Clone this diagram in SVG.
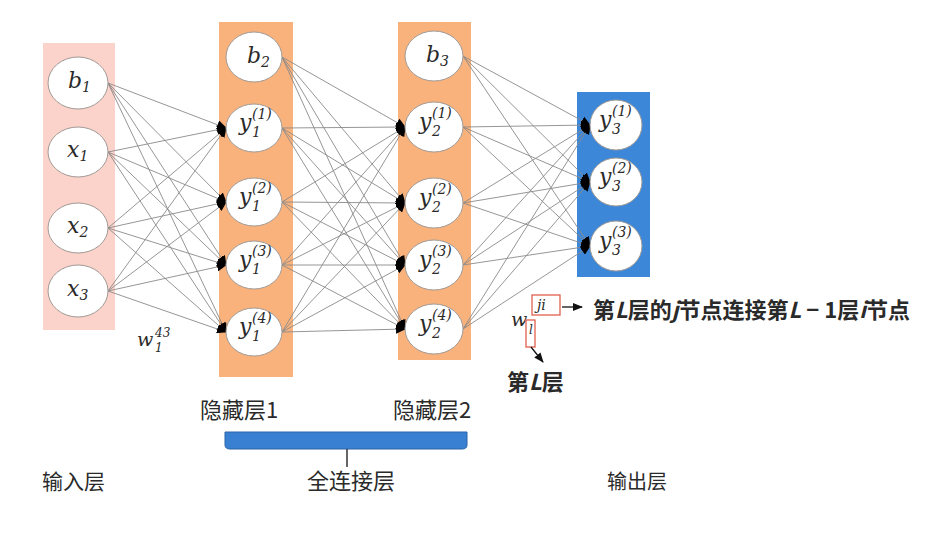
<svg xmlns="http://www.w3.org/2000/svg" width="944" height="544" viewBox="0 0 944 544">
<defs>
<marker id="ah" markerUnits="userSpaceOnUse" markerWidth="10" markerHeight="9" refX="9" refY="4.5" orient="auto">
<path d="M0,0 L10,4.5 L0,9 Z" fill="#000"/>
</marker>
<marker id="ah2" markerUnits="userSpaceOnUse" markerWidth="10" markerHeight="8" refX="9" refY="4" orient="auto">
<path d="M0,0 L10,4 L0,8 Z" fill="#111"/>
</marker>
</defs>
<style>
.n{fill:#fff;stroke:#a09a96;stroke-width:1}
.m{font-family:"DejaVu Serif","Liberation Serif",serif;font-style:italic;font-size:22px;fill:#2a2a2a}
.s{font-size:14px}
.w{font-size:19px}
.e{font-size:12px}
.c line{stroke:#8a8a8a;stroke-width:0.9;marker-end:url(#ah)}
.t{font-family:"Noto Sans CJK SC","Noto Sans",sans-serif;font-size:22px;fill:#2a2a2a}
.rb{fill:none;stroke:#e0604e;stroke-width:1.3}
</style>
<rect width="944" height="544" fill="#fff"/>
<g id="layers">
<rect x="43" y="43" width="72" height="287" fill="#fcd3cb"/>
<rect x="219" y="22" width="74" height="355" fill="#f9b27c"/>
<rect x="398" y="22" width="73" height="338" fill="#f9b27c"/>
<rect x="577" y="92" width="73" height="185" fill="#3d87d9"/>
</g>
<g id="connectors" class="c">
<line x1="108" y1="83" x2="226" y2="128"/><line x1="108" y1="83" x2="226" y2="202"/><line x1="108" y1="83" x2="226" y2="265"/><line x1="108" y1="83" x2="226" y2="332"/>
<line x1="108" y1="152" x2="226" y2="128"/><line x1="108" y1="152" x2="226" y2="202"/><line x1="108" y1="152" x2="226" y2="265"/><line x1="108" y1="152" x2="226" y2="332"/>
<line x1="108" y1="228" x2="226" y2="128"/><line x1="108" y1="228" x2="226" y2="202"/><line x1="108" y1="228" x2="226" y2="265"/><line x1="108" y1="228" x2="226" y2="332"/>
<line x1="108" y1="291" x2="226" y2="128"/><line x1="108" y1="291" x2="226" y2="202"/><line x1="108" y1="291" x2="226" y2="265"/><line x1="108" y1="291" x2="226" y2="332"/>
<line x1="282" y1="57" x2="405" y2="127"/><line x1="282" y1="57" x2="405" y2="203"/><line x1="282" y1="57" x2="405" y2="265"/><line x1="282" y1="57" x2="405" y2="329"/>
<line x1="282" y1="128" x2="405" y2="127"/><line x1="282" y1="128" x2="405" y2="203"/><line x1="282" y1="128" x2="405" y2="265"/><line x1="282" y1="128" x2="405" y2="329"/>
<line x1="282" y1="202" x2="405" y2="127"/><line x1="282" y1="202" x2="405" y2="203"/><line x1="282" y1="202" x2="405" y2="265"/><line x1="282" y1="202" x2="405" y2="329"/>
<line x1="282" y1="265" x2="405" y2="127"/><line x1="282" y1="265" x2="405" y2="203"/><line x1="282" y1="265" x2="405" y2="265"/><line x1="282" y1="265" x2="405" y2="329"/>
<line x1="282" y1="332" x2="405" y2="127"/><line x1="282" y1="332" x2="405" y2="203"/><line x1="282" y1="332" x2="405" y2="265"/><line x1="282" y1="332" x2="405" y2="329"/>
<line x1="463" y1="56" x2="590" y2="125"/><line x1="463" y1="56" x2="590" y2="182"/><line x1="463" y1="56" x2="590" y2="246"/>
<line x1="463" y1="127" x2="590" y2="125"/><line x1="463" y1="127" x2="590" y2="182"/><line x1="463" y1="127" x2="590" y2="246"/>
<line x1="463" y1="203" x2="590" y2="125"/><line x1="463" y1="203" x2="590" y2="182"/><line x1="463" y1="203" x2="590" y2="246"/>
<line x1="463" y1="265" x2="590" y2="125"/><line x1="463" y1="265" x2="590" y2="182"/><line x1="463" y1="265" x2="590" y2="246"/>
<line x1="463" y1="329" x2="590" y2="125"/><line x1="463" y1="329" x2="590" y2="182"/><line x1="463" y1="329" x2="590" y2="246"/>
</g>
<g id="b1"><ellipse class="n" cx="78" cy="83" rx="30" ry="26"/><text class="m" x="68" y="88">b<tspan class="s" dy="4">1</tspan></text></g>
<g id="x1"><ellipse class="n" cx="78" cy="152" rx="30" ry="25"/><text class="m" x="67" y="157">x<tspan class="s" dy="4">1</tspan></text></g>
<g id="x2"><ellipse class="n" cx="78" cy="228" rx="30" ry="25"/><text class="m" x="67" y="233">x<tspan class="s" dy="4">2</tspan></text></g>
<g id="x3"><ellipse class="n" cx="78" cy="291" rx="30" ry="26"/><text class="m" x="67" y="296">x<tspan class="s" dy="4">3</tspan></text></g>

<g id="b2"><ellipse class="n" cx="254" cy="57" rx="28" ry="25"/><text class="m" x="247" y="63">b<tspan class="s" dy="4">2</tspan></text></g>
<g id="y11"><ellipse class="n" cx="254" cy="128" rx="28" ry="24"/><text class="m" x="239" y="130">y</text><text class="m s" x="252" y="119">(1)</text><text class="m s" x="252" y="137">1</text></g>
<g id="y12"><ellipse class="n" cx="254" cy="202" rx="28" ry="24"/><text class="m" x="239" y="204">y</text><text class="m s" x="252" y="193">(2)</text><text class="m s" x="252" y="211">1</text></g>
<g id="y13"><ellipse class="n" cx="254" cy="265" rx="28" ry="24"/><text class="m" x="239" y="267">y</text><text class="m s" x="252" y="256">(3)</text><text class="m s" x="252" y="274">1</text></g>
<g id="y14"><ellipse class="n" cx="254" cy="332" rx="28" ry="24"/><text class="m" x="239" y="334">y</text><text class="m s" x="252" y="323">(4)</text><text class="m s" x="252" y="341">1</text></g>

<g id="b3"><ellipse class="n" cx="434" cy="56" rx="29" ry="25"/><text class="m" x="426" y="62">b<tspan class="s" dy="4">3</tspan></text></g>
<g id="y21"><ellipse class="n" cx="434" cy="127" rx="29" ry="25"/><text class="m" x="419" y="129">y</text><text class="m s" x="432" y="118">(1)</text><text class="m s" x="432" y="136">2</text></g>
<g id="y22"><ellipse class="n" cx="434" cy="203" rx="29" ry="25"/><text class="m" x="419" y="205">y</text><text class="m s" x="432" y="194">(2)</text><text class="m s" x="432" y="212">2</text></g>
<g id="y23"><ellipse class="n" cx="434" cy="265" rx="29" ry="25"/><text class="m" x="419" y="267">y</text><text class="m s" x="432" y="256">(3)</text><text class="m s" x="432" y="274">2</text></g>
<g id="y24"><ellipse class="n" cx="434" cy="329" rx="29" ry="25"/><text class="m" x="419" y="331">y</text><text class="m s" x="432" y="320">(4)</text><text class="m s" x="432" y="338">2</text></g>

<g id="y31"><ellipse class="n" cx="616" cy="125" rx="26" ry="25"/><text class="m" x="599" y="127">y</text><text class="m s" x="612" y="116">(1)</text><text class="m s" x="612" y="134">3</text></g>
<g id="y32"><ellipse class="n" cx="616" cy="182" rx="26" ry="24"/><text class="m" x="599" y="184">y</text><text class="m s" x="612" y="173">(2)</text><text class="m s" x="612" y="191">3</text></g>
<g id="y33"><ellipse class="n" cx="616" cy="246" rx="26" ry="25"/><text class="m" x="599" y="248">y</text><text class="m s" x="612" y="237">(3)</text><text class="m s" x="612" y="255">3</text></g>

<g id="w-label"><text class="m w" x="137" y="346">w</text><text class="m e" x="155" y="337">43</text><text class="m e" x="155" y="352">1</text></g>

<g id="annotation">
<text class="m w" x="511" y="326">w</text>
<text class="m s" x="537" y="310">ji</text>
<text class="m e" x="529" y="334">l</text>
<rect class="rb" x="532" y="295" width="28" height="20"/>
<rect class="rb" x="526" y="320" width="9" height="27"/>
<line x1="562" y1="307" x2="582" y2="307" stroke="#111" stroke-width="1.3" marker-end="url(#ah2)"/>
<line x1="531" y1="347" x2="543" y2="362" stroke="#111" stroke-width="1.3" marker-end="url(#ah2)"/>
<text class="t" x="593" y="318" font-weight="bold">第<tspan font-style="italic">L</tspan>层的<tspan font-style="italic">j</tspan>节点连接第<tspan font-style="italic">L</tspan> − 1层<tspan font-style="italic">i</tspan>节点</text>
<text class="t" x="507" y="390" font-weight="bold">第<tspan font-style="italic">L</tspan>层</text>
</g>

<g id="labels">
<text class="t" x="200" y="418">隐藏层1</text>
<text class="t" x="393" y="418">隐藏层2</text>
<path d="M225,432 L467,432 L467,445 Q467,449 462,449 L230,449 Q225,449 225,445 Z" fill="#3a80d2" stroke="#2b64a8" stroke-width="1"/>
<line x1="347" y1="449" x2="347" y2="467" stroke="#333" stroke-width="1.5"/>
<text class="t" x="307" y="489">全连接层</text>
<text class="t" x="42" y="489" style="font-size:21px">输入层</text>
<text class="t" x="607" y="489" style="font-size:20px">输出层</text>
</g>
</svg>
